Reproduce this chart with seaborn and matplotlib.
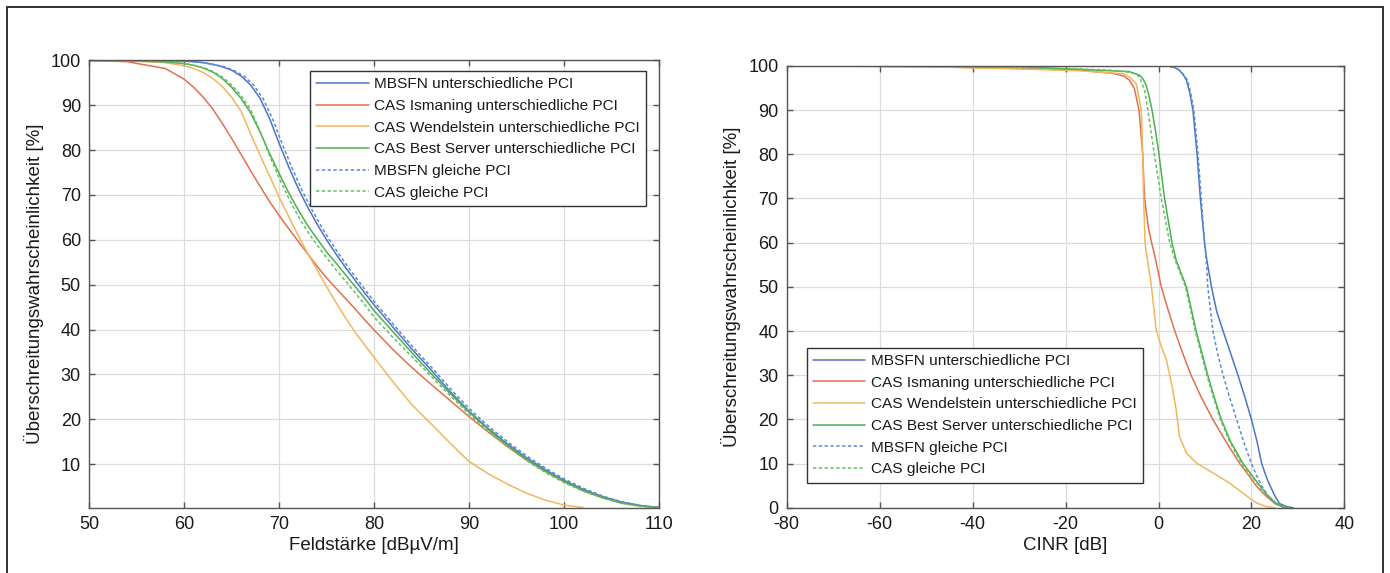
import numpy as np
import pandas as pd
import seaborn as sns
import matplotlib.pyplot as plt
from matplotlib.patches import Rectangle

# ---- left plot: Feldstaerke [dBuV/m] vs. probability [%] ----
fs_x = [50, 54, 58, 60, 61, 62, 63, 64, 65, 66, 67, 68, 69, 70, 71, 72, 73, 74, 75, 76, 77, 78, 79, 80,
        82, 84, 86, 88, 90, 92, 94, 96, 98, 100, 102, 104, 106, 108, 110]
fs_mbsfn_y = [100, 100, 99.95, 99.85, 99.7, 99.5, 99.1, 98.6, 97.8, 96.5, 94.5, 91.5, 87, 81.5, 76.3,
              71.5, 67.3, 63.5, 60, 56.8, 53.8, 51, 48.2, 45.5, 40.5, 35.6, 31, 26.2, 21.8, 18, 14.6,
              11.5, 8.8, 6.4, 4.4, 2.8, 1.6, 0.8, 0.35]
fs_mbsfn_g_x = [50, 54, 58, 60, 61, 62, 63.1, 64.2, 65.2, 66.3, 67.3, 68.3, 69.3, 70.3, 71.3, 72.3, 73.3,
                74.3, 75.3, 76.3, 77.3, 78.3, 79.3, 80.3, 82.3, 84.3, 86.3, 88.3, 90.3, 92.3, 94.3, 96.3,
                98.3, 100.3, 102.3, 104.2, 106.1, 108, 110]
fs_mbsfn_g_y = [100, 100, 99.95, 99.85, 99.7, 99.5, 99.1, 98.6, 97.8, 96.5, 94.5, 91.5, 87, 81.5, 76.3,
                71.5, 67.3, 63.5, 60, 56.8, 53.8, 51, 48.2, 45.5, 40.5, 35.6, 31, 26.2, 21.8, 18, 14.6,
                11.5, 8.8, 6.4, 4.4, 2.8, 1.6, 0.8, 0.35]
fs_ism_y = [100, 99.7, 98.2, 95.8, 94, 91.8, 89.2, 86, 82.6, 79, 75.4, 71.9, 68.5, 65.4, 62.5, 59.7,
            56.9, 54.1, 51.5, 49.2, 46.9, 44.6, 42.2, 39.9, 35.5, 31.5, 27.8, 24.2, 20.6, 17.2, 14,
            11, 8.4, 6.1, 4.1, 2.6, 1.4, 0.7, 0.35]
fs_wen_x = [50, 54, 58, 60, 61, 62, 63, 64, 65, 66, 67, 68, 69, 70, 71, 72, 73, 74, 75, 76, 77, 78, 79,
            80, 82, 84, 86, 88, 90, 92, 94, 96, 98, 100, 102]
fs_wen_y = [100, 99.9, 99.5, 98.8, 98.2, 97.3, 96, 94.2, 91.8, 88.6, 83.6, 78.8, 74.2, 69.5, 65.2, 61,
            57, 53.3, 49.5, 46, 42.6, 39.4, 36.6, 33.8, 28.3, 23.2, 19, 14.7, 10.6, 7.9, 5.6, 3.6, 2,
            0.9, 0.35]
fs_best_y = [100, 99.95, 99.7, 99.3, 98.9, 98.3, 97.4, 96, 94, 91.5, 88.3, 84, 79.2, 74.8, 70.5, 66.7,
             63.2, 60.2, 57.3, 54.8, 52.2, 49.6, 47, 44.2, 39.5, 34.8, 30.2, 25.8, 21.6, 17.8, 14.3,
             11.2, 8.5, 6.2, 4.2, 2.6, 1.4, 0.7, 0.35]
fs_cas_g_y = [100, 99.9, 99.6, 99.3, 98.9, 98.4, 97.6, 96.3, 94.5, 92.2, 89, 84.2, 78.7, 73.8, 69.3,
              65.3, 61.8, 58.8, 56, 53.3, 50.8, 48.2, 45.6, 42.8, 38.2, 33.9, 29.6, 25.3, 21.2, 17.4,
              14, 10.9, 8.2, 5.9, 4, 2.5, 1.3, 0.6, 0.35]

# ---- right plot: CINR [dB] vs. probability [%] ----
ci_mbsfn_x = [-77, -20, 0, 2, 3.5, 4.5, 5.3, 6, 6.7, 7.4, 8.3, 9, 9.9, 10.4, 11.4, 12.5, 13.9, 15.5,
              17.1, 18.6, 20, 21.2, 22.2, 23.2, 24, 25, 26, 27.5, 29]
ci_mbsfn_y = [100, 100, 100, 99.95, 99.6, 99, 98, 96.8, 94, 90, 80, 70, 60, 56, 50, 44.5, 40, 35,
              30, 25, 20, 15, 10, 7, 5, 2.8, 1, 0.3, 0]
ci_mbsfn_g_x = [-77, -20, 0, 2, 3.6, 4.6, 5.4, 6.2, 6.9, 7.6, 8.5, 9.2, 9.9, 10.3, 10.6, 11.7, 12.7,
                13.9, 15.3, 16.8, 18.3, 20, 21, 22.2, 23.5, 25, 26.5, 27.5]
ci_mbsfn_g_y = [100, 100, 100, 99.95, 99.6, 99, 98, 96.8, 94, 90, 80, 70, 60, 56, 50, 40, 35,
                30, 25, 20, 15, 10, 7.5, 5, 2.8, 1, 0.3, 0]
ci_ism_x = [-77, -50, -30, -17, -9.9, -7.5, -6.3, -5.2, -4.2, -3.4, -3, -2.2, -1.5, -0.9, 0.6, 2, 3.5,
            5.2, 7, 9.2, 11.7, 14.5, 17.5, 19.3, 21, 23, 25, 26.5, 27.5]
ci_ism_y = [100, 99.8, 99.4, 99, 98.3, 97.7, 96.8, 94.9, 90, 80, 70, 63.5, 60, 57.5, 50, 45, 40,
            35, 30, 25, 20, 15, 10, 7.5, 5, 2.8, 1, 0.3, 0]
ci_wen_x = [-77, -50, -30, -17, -7.5, -6.3, -4.8, -3.7, -3.4, -3.2, -2.9, -2.7, -1.6, -0.5, 0.6, 1.7,
            3, 3.8, 4.5, 6, 8.1, 11.7, 15.3, 19.6, 21.1, 23.2, 25]
ci_wen_y = [100, 99.8, 99.3, 98.9, 98.2, 97.5, 96, 90, 80, 70, 60, 58.3, 50.8, 40.3, 36.5, 33.5,
            27, 22.2, 16.2, 12.4, 10.2, 7.9, 5.6, 2.2, 1.1, 0.3, 0]
ci_best_x = [-77, -30, -17, -6.3, -4.1, -3.3, -2.7, -2, -1.4, -0.6, 0.1, 1.3, 2.9, 3.8, 6, 8.1, 10.6,
             12, 13.5, 15.5, 18.2, 20, 21.8, 23.5, 25.4, 27, 28.3]
ci_best_y = [100, 99.8, 99.2, 98.7, 97.9, 97, 95.7, 93, 90, 85, 80, 70, 60, 56, 50, 40, 30,
             25, 20, 15, 10, 7.5, 5, 2.8, 1, 0.3, 0]
ci_cas_g_x = [-77, -40, -20, -10, -6, -4.6, -4, -3, -2.3, -0.9, 0.6, 2.4, 3.6, 5.8, 7.9, 10.4, 11.8,
              13.3, 15.3, 17.9, 19.8, 21.6, 23.3, 25.2, 26.8, 28]
ci_cas_g_y = [100, 99.8, 99.4, 99, 98.5, 98, 97.2, 94.5, 90, 80, 70, 60, 56, 50, 40, 30, 25,
              20, 15, 10, 7.5, 5, 2.8, 1, 0.3, 0]

labels = ["MBSFN unterschiedliche PCI", "CAS Ismaning unterschiedliche PCI",
          "CAS Wendelstein unterschiedliche PCI", "CAS Best Server unterschiedliche PCI",
          "MBSFN gleiche PCI", "CAS gleiche PCI"]
colors = ["#4a76c8", "#e2704f", "#f2b65c", "#4caf50", "#5c88d8", "#62c062"]
styles = ["-", "-", "-", "-", (0, (2.2, 1.6)), (0, (2.2, 1.6))]

left_series = [(fs_x, fs_mbsfn_y), (fs_x, fs_ism_y), (fs_wen_x, fs_wen_y),
               (fs_x, fs_best_y), (fs_mbsfn_g_x, fs_mbsfn_g_y), (fs_x, fs_cas_g_y)]
right_series = [(ci_mbsfn_x, ci_mbsfn_y), (ci_ism_x, ci_ism_y), (ci_wen_x, ci_wen_y),
                (ci_best_x, ci_best_y), (ci_mbsfn_g_x, ci_mbsfn_g_y), (ci_cas_g_x, ci_cas_g_y)]

sns.set_theme(style="whitegrid")
plt.rcParams['font.family'] = ['Liberation Sans', 'DejaVu Sans']
plt.rcParams['axes.unicode_minus'] = False

TXT = "#1a1a1a"

fig = plt.figure(figsize=(13.9, 5.73), dpi=100)
ax1 = fig.add_axes([0.0642, 0.1143, 0.4099, 0.7803])
ax2 = fig.add_axes([0.566, 0.1137, 0.4012, 0.7714])


def draw(ax, series):
    for (xs, ys), lab, col, ls in zip(series, labels, colors, styles):
        df = pd.DataFrame({"x": xs, "y": ys})
        sns.lineplot(data=df, x="x", y="y", ax=ax, color=col, linestyle=ls, linewidth=1.1,
                     label=lab, sort=False, estimator=None)


def style(ax):
    for sp in ax.spines.values():
        sp.set_color("#555555")
        sp.set_linewidth(1.0)
        sp.set_visible(True)
    ax.grid(True, color="#dcdcdc", linewidth=0.9)
    ax.tick_params(direction="in", length=4, width=1, color="#555555",
                   top=True, right=True, bottom=True, left=True,
                   labelsize=13, labelcolor=TXT, pad=6)
    ax.set_facecolor("white")


def legend(ax, **kw):
    leg = ax.legend(borderaxespad=0, fontsize=11.1, frameon=True, fancybox=False, framealpha=1,
                    edgecolor="#333333", handlelength=3.4, handletextpad=0.35,
                    labelspacing=0.5, borderpad=0.4, **kw)
    leg.get_frame().set_linewidth(1.0)
    for t in leg.get_texts():
        t.set_color(TXT)


draw(ax1, left_series)
ax1.set_xlim(50, 110)
ax1.set_ylim(0.35, 100)
ax1.set_xticks(np.arange(50, 111, 10))
ax1.set_yticks(np.arange(10, 101, 10))
ax1.set_xlabel("Feldstärke [dBµV/m]", fontsize=13.5, color=TXT, labelpad=3)
ax1.set_ylabel("Überschreitungswahrscheinlichkeit [%]", fontsize=13.5, color=TXT, labelpad=5)
style(ax1)
legend(ax1, loc="upper right", bbox_to_anchor=(0.977, 0.976))

draw(ax2, right_series)
ax2.set_xlim(-80, 40)
ax2.set_ylim(0, 100)
ax2.set_xticks(np.arange(-80, 41, 20))
ax2.set_yticks(np.arange(0, 101, 10))
ax2.set_xlabel("CINR [dB]", fontsize=13.5, color=TXT, labelpad=3)
ax2.set_ylabel("Überschreitungswahrscheinlichkeit [%]", fontsize=13.5, color=TXT, labelpad=5)
style(ax2)
legend(ax2, loc="lower left", bbox_to_anchor=(0.036, 0.057))

# outer frame around the whole figure
fig.patches.append(Rectangle((6.7 / 1390, -0.05), (1382.7 - 6.7) / 1390, 1.05 - 7.3 / 573,
                             transform=fig.transFigure, fill=False, edgecolor="#222222",
                             linewidth=1.3))

fig.savefig("out.png", dpi=100)
